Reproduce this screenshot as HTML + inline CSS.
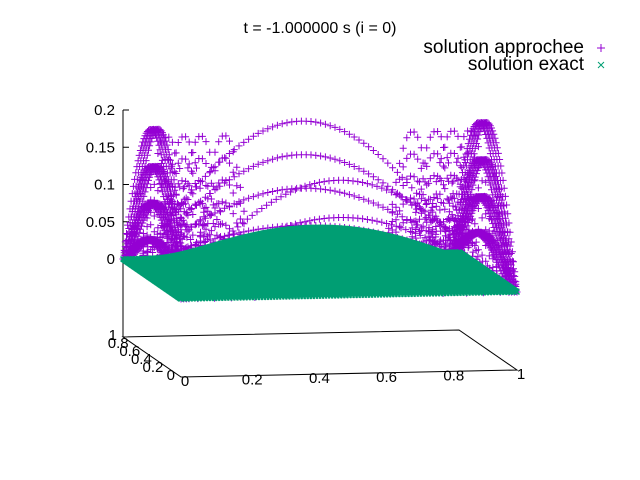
<!DOCTYPE html>
<html><head><meta charset="utf-8"><style>
body{margin:0;background:#fff}
svg{display:block;font-family:"Liberation Sans",sans-serif;font-size:15px}
</style></head><body>
<svg id="chart" width="640" height="480">
<rect width="640" height="480" fill="#fff"/>
<text x="320" y="33" text-anchor="middle" font-size="16">t = -1.000000 s (i = 0)</text>
<g font-size="19">
<text x="584" y="53" text-anchor="end">solution approchee</text>
<path d="M597 48h8M601 44v8" stroke="#9400d3"/>
<text x="584" y="70" text-anchor="end">solution exact</text>
<path d="M598 62l6 6M604 62l-6 6" stroke="#009e73"/>
</g>
<g id="axes"></g>
<g id="approx"></g>
<g id="exact"></g>
</svg>
<script>
const xTicks=[0,0.2,0.4,0.6,0.8,1];
const xTickLabels=["0","0.2","0.4","0.6","0.8","1"];
const yTicks=[0,0.2,0.4,0.6,0.8,1];
const yTickLabels=["0","0.2","0.4","0.6","0.8","1"];
const zTicks=[0,0.05,0.1,0.15,0.2];
const zTickLabels=["0","0.05","0.1","0.15","0.2"];
const exactPeak=[0.062];
const middleArcY=[0.82,0.82,0.82,0.82,0.18,0.18,0.18];
const middleArcPeak=[0.19,0.145,0.1,0.05,0.145,0.095,0.05];
const edgeArcPeak=[0.2,0.15,0.1,0.05];
const innerArcX=[0.05,0.1,0.15,0.22,0.78,0.85,0.9,0.95];
const innerArcPeak=[0.19,0.16,0.13,0.1,0.07,0.04];

const NS="http://www.w3.org/2000/svg";
function px(x,y,z){return [181+336*x-58*y, 377-7*x-40*y-78-745*z];}
function base(x,y){return [181+336*x-58*y, 377-7*x-40*y];}
function mk(tag,attrs,parent){const e=document.createElementNS(NS,tag);for(const k in attrs)e.setAttribute(k,attrs[k]);parent.appendChild(e);return e;}
const axes=document.getElementById('axes');
const c00=base(0,0),c10=base(1,0),c11=base(1,1),c01=base(0,1);
const frame=mk('path',{d:`M${c00}L${c10}L${c11}L${c01}Z M${c01[0]},${c01[1]}V${px(0,1,0.2)[1]}`,fill:'none',stroke:'#000','stroke-width':1},axes);


xTicks.forEach((v,i)=>{const p=base(v,0);
 const t=mk('text',{x:p[0]+4,y:p[1]+9,'text-anchor':'middle'},axes);t.textContent=xTickLabels[i];
 
 });
yTicks.forEach((v,i)=>{const p=base(0,v);
 const t=mk('text',{x:p[0]-6,y:p[1]+3,'text-anchor':'end'},axes);t.textContent=yTickLabels[i];
 
 });
zTicks.forEach((v,i)=>{const p=px(0,1,v);
 mk('path',{d:`M${p[0]},${p[1]}h6`,stroke:'#000'},axes);
 const t=mk('text',{x:p[0]-8,y:p[1]+5,'text-anchor':'end'},axes);t.textContent=zTickLabels[i];
 
 });
const ap=document.getElementById('approx');
let a='';
function plus(p){a+=`M${(p[0]-3.5).toFixed(1)} ${p[1].toFixed(1)}h7M${p[0].toFixed(1)} ${(p[1]-3.5).toFixed(1)}v7`;}
middleArcY.forEach((y,k)=>{for(let i=0;i<=70;i++){const x=i/70;plus(px(x,y,middleArcPeak[k]*Math.sin(Math.PI*x)));}});
[0,0.008,0.016,0.024,0.976,0.984,0.992,1].forEach(x=>{edgeArcPeak.forEach(pk=>{for(let j=0;j<=50;j++){const y=j/50;plus(px(x,y,pk*Math.sin(Math.PI*y)));}});});
innerArcX.forEach(x=>{innerArcPeak.forEach(pk=>{for(let j=0;j<=16;j++){const y=j/16;plus(px(x,y,pk*Math.sin(Math.PI*y)));}});});
const apth=mk('path',{d:a,stroke:'#9400d3','stroke-width':1,fill:'none'},ap);


const ex=document.getElementById('exact');
let d='';const N=110;
for(let j=N;j>=0;j--)for(let i=0;i<=N;i++){const x=i/N,y=j/N;
 const z=exactPeak[0]*Math.sin(Math.PI*x)*Math.sin(Math.PI*y);
 const p=px(x,y,z);d+=`M${(p[0]-2.5).toFixed(1)} ${(p[1]-2.5).toFixed(1)}l5 5m0 -5l-5 5`;}
const ep=mk('path',{d:d,stroke:'#009e73','stroke-width':1.5,fill:'none'},ex);


</script>
</body></html>
